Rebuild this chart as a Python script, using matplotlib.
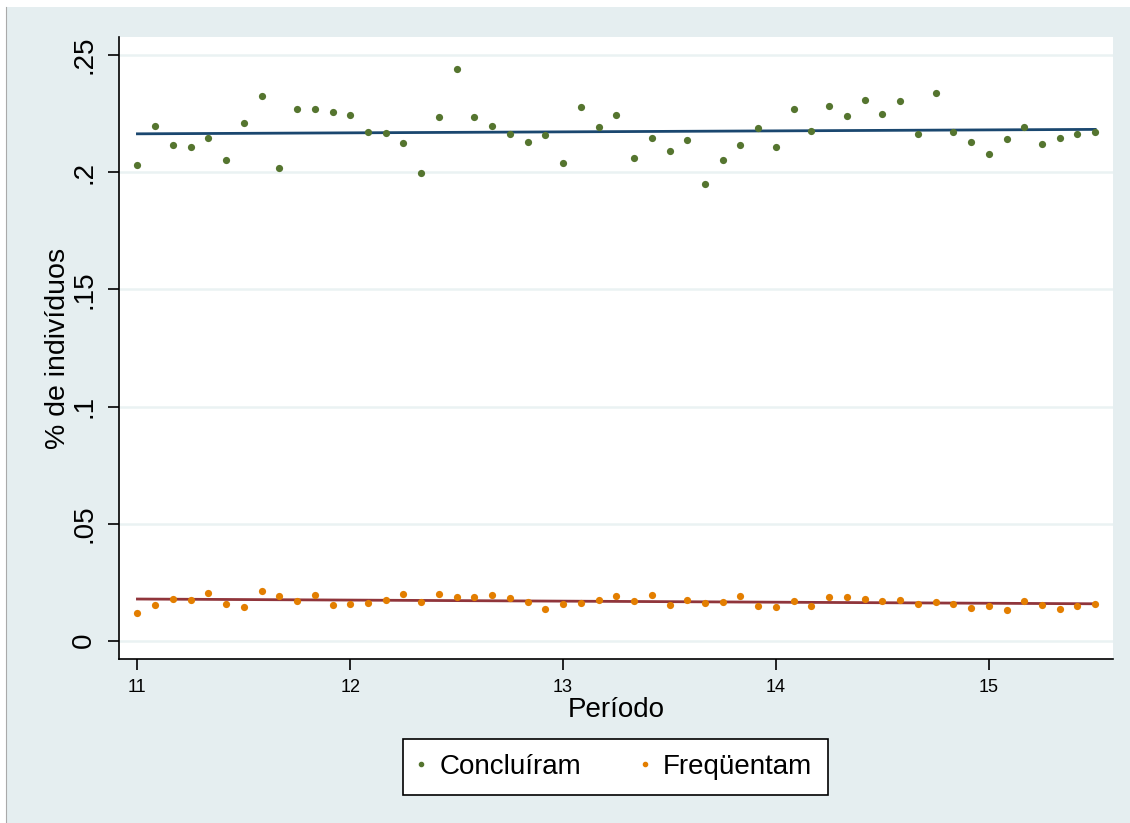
import numpy as np
import matplotlib
matplotlib.use("Agg")
import matplotlib.pyplot as plt
from matplotlib.patches import Rectangle
from matplotlib.lines import Line2D

# ============================================================
# Data (monthly, 11 to 15.5)
# ============================================================

periodo = np.arange(55) / 12 + 11

concluiram = [
    0.2030, 0.2198, 0.2118, 0.2107, 0.2145, 0.2054, 0.2211, 0.2326, 0.2018, 0.2271,
    0.2271, 0.2258, 0.2246, 0.2174, 0.2169, 0.2125, 0.1997, 0.2238, 0.2439, 0.2238,
    0.2198, 0.2162, 0.2129, 0.2158, 0.2038, 0.2278, 0.2194, 0.2246, 0.2061, 0.2147,
    0.2091, 0.2138, 0.1950, 0.2054, 0.2118, 0.2189, 0.2109, 0.2271, 0.2178, 0.2282,
    0.2242, 0.2310, 0.2250, 0.2306, 0.2165, 0.2338, 0.2174, 0.2131, 0.2078, 0.2142,
    0.2194, 0.2121, 0.2147, 0.2165, 0.2171,
]

frequentam = [
    0.0120, 0.0154, 0.0178, 0.0175, 0.0204, 0.0158, 0.0143, 0.0211, 0.0191, 0.0171,
    0.0195, 0.0151, 0.0156, 0.0162, 0.0174, 0.0200, 0.0167, 0.0200, 0.0188, 0.0188,
    0.0195, 0.0184, 0.0167, 0.0135, 0.0156, 0.0162, 0.0175, 0.0191, 0.0171, 0.0195,
    0.0154, 0.0174, 0.0160, 0.0167, 0.0191, 0.0147, 0.0143, 0.0171, 0.0148, 0.0187,
    0.0187, 0.0178, 0.0171, 0.0174, 0.0158, 0.0167, 0.0156, 0.0138, 0.0147, 0.0131,
    0.0171, 0.0154, 0.0134, 0.0147, 0.0158,
]

y_ticks = [0, 0.05, 0.10, 0.15, 0.20, 0.25]
y_labels = ["0", ".05", ".1", ".15", ".2", ".25"]
x_ticks = [11, 12, 13, 14, 15]

# ============================================================
# Colours (Stata s2color)
# ============================================================

BG = "#e5eef0"
GRID = "#eaf2f3"
GREEN = "#55752f"
ORANGE = "#e37e00"
NAVY = "#1a476f"
MAROON = "#90353b"

plt.rcParams["font.family"] = ["Liberation Sans", "DejaVu Sans"]

fig = plt.figure(figsize=(11.30, 8.23), dpi=100)
fig.patch.set_facecolor("white")
fig.patches.append(Rectangle(
    (6 / 1130, 0), 1 - 6 / 1130, (823 - 7) / 823,
    transform=fig.transFigure, facecolor=BG, edgecolor="none", zorder=-10
))
fig.add_artist(Line2D([6 / 1130, 6 / 1130], [0, (823 - 7) / 823],
                      transform=fig.transFigure, color="#aaaaaa",
                      linewidth=0.8, zorder=-9))

ax = fig.add_axes([0.1056, 0.1989, 0.8796, 0.7565])
ax.set_facecolor("white")

# ============================================================
# Points and linear fits
# ============================================================

ax.scatter(periodo, concluiram, s=27, color=GREEN, zorder=3, linewidths=0)
ax.scatter(periodo, frequentam, s=27, color=ORANGE, zorder=3, linewidths=0)

x_fit = np.array([periodo[0], periodo[-1]])
b1, a1 = np.polyfit(periodo, concluiram, 1)
b2, a2 = np.polyfit(periodo, frequentam, 1)
ax.plot(x_fit, a1 + b1 * x_fit, color=NAVY, linewidth=2.0, zorder=2)
ax.plot(x_fit, a2 + b2 * x_fit, color=MAROON, linewidth=2.0, zorder=2)

# ============================================================
# Axes styling
# ============================================================

ax.set_xlim(10.915, 15.585)
ax.set_ylim(-0.00794, 0.2579)

ax.set_yticks(y_ticks)
ax.set_yticklabels(y_labels, rotation=90, va="center", fontsize=20)
ax.set_xticks(x_ticks)
ax.set_xticklabels([str(t) for t in x_ticks], fontsize=13)

ax.tick_params(axis="y", length=8, width=1.2, pad=8)
ax.tick_params(axis="x", length=8, width=1.2, pad=6)

ax.grid(axis="y", color=GRID, linewidth=1.8, zorder=0)
ax.set_axisbelow(True)

for side in ["top", "right"]:
    ax.spines[side].set_visible(False)
for side in ["left", "bottom"]:
    ax.spines[side].set_linewidth(1.2)

ax.set_xlabel("Período", fontsize=20, labelpad=1)
ax.set_ylabel("% de indivíduos", fontsize=20.5, labelpad=0)

# ============================================================
# Legend
# ============================================================

handles = [
    Line2D([], [], marker="o", linestyle="none", color=GREEN, markersize=3),
    Line2D([], [], marker="o", linestyle="none", color=ORANGE, markersize=3),
]
leg = fig.legend(
    handles, ["Concluíram", "Freqüentam"],
    loc="center", bbox_to_anchor=(615.5 / 1130, 1 - 767 / 823),
    ncol=2, fontsize=20, frameon=True, fancybox=False,
    handlelength=0.2, handletextpad=0.55, columnspacing=2.2,
    borderpad=0.55, edgecolor="black", facecolor="white", framealpha=1
)
leg.get_frame().set_linewidth(1.2)

fig.savefig("out.png", dpi=100)
